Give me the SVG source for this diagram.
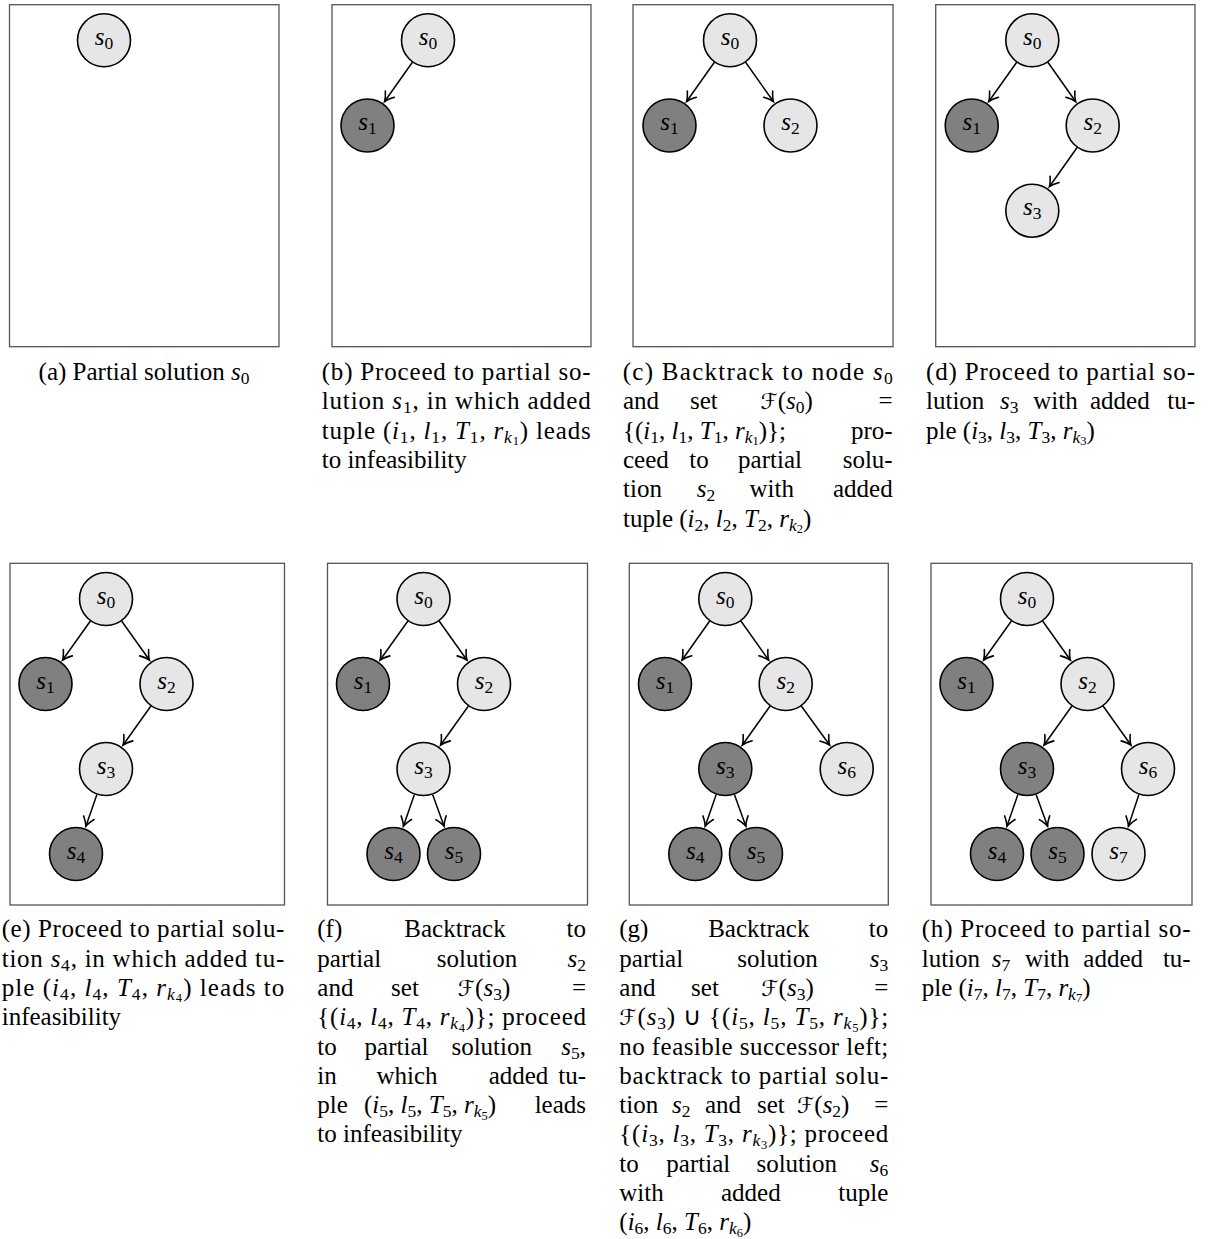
<svg xmlns="http://www.w3.org/2000/svg" width="1213" height="1239" viewBox="0 0 1213 1239" font-family="Liberation Serif, serif">
<style>
.box{fill:#fff;stroke:#555;stroke-width:1.3}
.L{fill:#e6e6e6;stroke:#000;stroke-width:1.6}
.D{fill:#808080;stroke:#000;stroke-width:1.6}
.lbl{font-size:25px;text-anchor:middle;fill:#000}
.cap{font-size:25px;fill:#000}
.it{font-style:italic}
.sb{font-size:17.5px}
.ss{font-size:12.5px}
.scr{font-size:22px;font-style:italic}
.e{fill:none;stroke:#000;stroke-width:1.5;marker-end:url(#ah)}
.m{text-anchor:middle}
.r{text-anchor:end}
</style>
<defs>
<marker id="ah" markerUnits="userSpaceOnUse" viewBox="-11 -7 13 14" refX="0" refY="0" markerWidth="13" markerHeight="14" orient="auto"><path d="M-9,-5.5 Q-3.5,-1.2 0,0 Q-3.5,1.2 -9,5.5" fill="none" stroke="#000" stroke-width="1.6" stroke-linecap="round"/></marker>
</defs>

<g id="boxes">
<rect class="box" x="9.5" y="4.7" width="269.5" height="342"/>
<rect class="box" x="332" y="4.7" width="259" height="342"/>
<rect class="box" x="633" y="4.7" width="260" height="342"/>
<rect class="box" x="935.7" y="4.7" width="259.3" height="342"/>
<rect class="box" x="10" y="563.3" width="274.5" height="341.7"/>
<rect class="box" x="327.5" y="563.3" width="260" height="341.7"/>
<rect class="box" x="629.3" y="563.3" width="259" height="341.7"/>
<rect class="box" x="931" y="563.3" width="261" height="341.7"/>
</g>

<g id="connectors">
<line class="e" x1="412.4" y1="62.3" x2="384.6" y2="101.5"/>
<line class="e" x1="714.4" y1="62.3" x2="686.6" y2="101.5"/>
<line class="e" x1="745.6" y1="62.3" x2="773.4" y2="101.5"/>
<line class="e" x1="1016.7" y1="62.3" x2="988.8" y2="101.5"/>
<line class="e" x1="1047.9" y1="62.3" x2="1075.6" y2="101.5"/>
<line class="e" x1="1077.1" y1="147.5" x2="1049.4" y2="186.7"/>
<line class="e" x1="90.4" y1="621" x2="62.6" y2="660"/>
<line class="e" x1="121.6" y1="621" x2="149.4" y2="660"/>
<line class="e" x1="150.9" y1="706" x2="123.1" y2="745"/>
<line class="e" x1="96.9" y1="794.4" x2="85.9" y2="826.2"/>
<line class="e" x1="407.9" y1="621" x2="380.1" y2="660"/>
<line class="e" x1="439.1" y1="621" x2="466.9" y2="660"/>
<line class="e" x1="468.4" y1="706" x2="440.6" y2="745"/>
<line class="e" x1="414.4" y1="794.4" x2="403.4" y2="826.2"/>
<line class="e" x1="432.6" y1="794.4" x2="444.1" y2="826.2"/>
<line class="e" x1="709.7" y1="621" x2="682.1" y2="660"/>
<line class="e" x1="740.9" y1="621" x2="768.6" y2="660"/>
<line class="e" x1="770.1" y1="706" x2="742.4" y2="745"/>
<line class="e" x1="801.3" y1="706" x2="829.6" y2="745"/>
<line class="e" x1="716.2" y1="794.4" x2="705.2" y2="826.2"/>
<line class="e" x1="734.4" y1="794.4" x2="745.9" y2="826.2"/>
<line class="e" x1="1011.4" y1="621" x2="983.6" y2="660"/>
<line class="e" x1="1042.6" y1="621" x2="1070.4" y2="660"/>
<line class="e" x1="1071.9" y1="706" x2="1044.1" y2="745"/>
<line class="e" x1="1103.1" y1="706" x2="1130.9" y2="745"/>
<line class="e" x1="1017.9" y1="794.4" x2="1006.9" y2="826.2"/>
<line class="e" x1="1036.1" y1="794.4" x2="1047.6" y2="826.2"/>
<line class="e" x1="1138.9" y1="794.4" x2="1128.4" y2="826.2"/>
</g>

<g id="a-s0"><circle class="L" cx="104" cy="40.3" r="26.5"/><text class="lbl" x="104" y="44.8"><tspan class="it">s</tspan><tspan class="sb" dy="4">0</tspan></text></g>

<g id="b-s0"><circle class="L" cx="428" cy="40.3" r="26.5"/><text class="lbl" x="428" y="44.8"><tspan class="it">s</tspan><tspan class="sb" dy="4">0</tspan></text></g>
<g id="b-s1"><circle class="D" cx="367.5" cy="125.5" r="26.5"/><text class="lbl" x="367.5" y="130"><tspan class="it">s</tspan><tspan class="sb" dy="4">1</tspan></text></g>

<g id="c-s0"><circle class="L" cx="730" cy="40.3" r="26.5"/><text class="lbl" x="730" y="44.8"><tspan class="it">s</tspan><tspan class="sb" dy="4">0</tspan></text></g>
<g id="c-s1"><circle class="D" cx="669.5" cy="125.5" r="26.5"/><text class="lbl" x="669.5" y="130"><tspan class="it">s</tspan><tspan class="sb" dy="4">1</tspan></text></g>
<g id="c-s2"><circle class="L" cx="790.5" cy="125.5" r="26.5"/><text class="lbl" x="790.5" y="130"><tspan class="it">s</tspan><tspan class="sb" dy="4">2</tspan></text></g>

<g id="d-s0"><circle class="L" cx="1032.3" cy="40.3" r="26.5"/><text class="lbl" x="1032.3" y="44.8"><tspan class="it">s</tspan><tspan class="sb" dy="4">0</tspan></text></g>
<g id="d-s1"><circle class="D" cx="971.7" cy="125.5" r="26.5"/><text class="lbl" x="971.7" y="130"><tspan class="it">s</tspan><tspan class="sb" dy="4">1</tspan></text></g>
<g id="d-s2"><circle class="L" cx="1092.7" cy="125.5" r="26.5"/><text class="lbl" x="1092.7" y="130"><tspan class="it">s</tspan><tspan class="sb" dy="4">2</tspan></text></g>
<g id="d-s3"><circle class="L" cx="1032.3" cy="210.7" r="26.5"/><text class="lbl" x="1032.3" y="215.2"><tspan class="it">s</tspan><tspan class="sb" dy="4">3</tspan></text></g>

<g id="e-s0"><circle class="L" cx="106" cy="599" r="26.5"/><text class="lbl" x="106" y="603.5"><tspan class="it">s</tspan><tspan class="sb" dy="4">0</tspan></text></g>
<g id="e-s1"><circle class="D" cx="45.5" cy="684" r="26.5"/><text class="lbl" x="45.5" y="688.5"><tspan class="it">s</tspan><tspan class="sb" dy="4">1</tspan></text></g>
<g id="e-s2"><circle class="L" cx="166.5" cy="684" r="26.5"/><text class="lbl" x="166.5" y="688.5"><tspan class="it">s</tspan><tspan class="sb" dy="4">2</tspan></text></g>
<g id="e-s3"><circle class="L" cx="106" cy="769" r="26.5"/><text class="lbl" x="106" y="773.5"><tspan class="it">s</tspan><tspan class="sb" dy="4">3</tspan></text></g>
<g id="e-s4"><circle class="D" cx="76" cy="854" r="26.5"/><text class="lbl" x="76" y="858.5"><tspan class="it">s</tspan><tspan class="sb" dy="4">4</tspan></text></g>

<g id="f-s0"><circle class="L" cx="423.5" cy="599" r="26.5"/><text class="lbl" x="423.5" y="603.5"><tspan class="it">s</tspan><tspan class="sb" dy="4">0</tspan></text></g>
<g id="f-s1"><circle class="D" cx="363" cy="684" r="26.5"/><text class="lbl" x="363" y="688.5"><tspan class="it">s</tspan><tspan class="sb" dy="4">1</tspan></text></g>
<g id="f-s2"><circle class="L" cx="484" cy="684" r="26.5"/><text class="lbl" x="484" y="688.5"><tspan class="it">s</tspan><tspan class="sb" dy="4">2</tspan></text></g>
<g id="f-s3"><circle class="L" cx="423.5" cy="769" r="26.5"/><text class="lbl" x="423.5" y="773.5"><tspan class="it">s</tspan><tspan class="sb" dy="4">3</tspan></text></g>
<g id="f-s4"><circle class="D" cx="393.5" cy="854" r="26.5"/><text class="lbl" x="393.5" y="858.5"><tspan class="it">s</tspan><tspan class="sb" dy="4">4</tspan></text></g>
<g id="f-s5"><circle class="D" cx="454" cy="854" r="26.5"/><text class="lbl" x="454" y="858.5"><tspan class="it">s</tspan><tspan class="sb" dy="4">5</tspan></text></g>

<g id="g-s0"><circle class="L" cx="725.3" cy="599" r="26.5"/><text class="lbl" x="725.3" y="603.5"><tspan class="it">s</tspan><tspan class="sb" dy="4">0</tspan></text></g>
<g id="g-s1"><circle class="D" cx="665" cy="684" r="26.5"/><text class="lbl" x="665" y="688.5"><tspan class="it">s</tspan><tspan class="sb" dy="4">1</tspan></text></g>
<g id="g-s2"><circle class="L" cx="785.7" cy="684" r="26.5"/><text class="lbl" x="785.7" y="688.5"><tspan class="it">s</tspan><tspan class="sb" dy="4">2</tspan></text></g>
<g id="g-s3"><circle class="D" cx="725.3" cy="769" r="26.5"/><text class="lbl" x="725.3" y="773.5"><tspan class="it">s</tspan><tspan class="sb" dy="4">3</tspan></text></g>
<g id="g-s6"><circle class="L" cx="846.7" cy="769" r="26.5"/><text class="lbl" x="846.7" y="773.5"><tspan class="it">s</tspan><tspan class="sb" dy="4">6</tspan></text></g>
<g id="g-s4"><circle class="D" cx="695.3" cy="854" r="26.5"/><text class="lbl" x="695.3" y="858.5"><tspan class="it">s</tspan><tspan class="sb" dy="4">4</tspan></text></g>
<g id="g-s5"><circle class="D" cx="756" cy="854" r="26.5"/><text class="lbl" x="756" y="858.5"><tspan class="it">s</tspan><tspan class="sb" dy="4">5</tspan></text></g>

<g id="h-s0"><circle class="L" cx="1027" cy="599" r="26.5"/><text class="lbl" x="1027" y="603.5"><tspan class="it">s</tspan><tspan class="sb" dy="4">0</tspan></text></g>
<g id="h-s1"><circle class="D" cx="966.5" cy="684" r="26.5"/><text class="lbl" x="966.5" y="688.5"><tspan class="it">s</tspan><tspan class="sb" dy="4">1</tspan></text></g>
<g id="h-s2"><circle class="L" cx="1087.5" cy="684" r="26.5"/><text class="lbl" x="1087.5" y="688.5"><tspan class="it">s</tspan><tspan class="sb" dy="4">2</tspan></text></g>
<g id="h-s3"><circle class="D" cx="1027" cy="769" r="26.5"/><text class="lbl" x="1027" y="773.5"><tspan class="it">s</tspan><tspan class="sb" dy="4">3</tspan></text></g>
<g id="h-s6"><circle class="L" cx="1148" cy="769" r="26.5"/><text class="lbl" x="1148" y="773.5"><tspan class="it">s</tspan><tspan class="sb" dy="4">6</tspan></text></g>
<g id="h-s4"><circle class="D" cx="997" cy="854" r="26.5"/><text class="lbl" x="997" y="858.5"><tspan class="it">s</tspan><tspan class="sb" dy="4">4</tspan></text></g>
<g id="h-s5"><circle class="D" cx="1057.5" cy="854" r="26.5"/><text class="lbl" x="1057.5" y="858.5"><tspan class="it">s</tspan><tspan class="sb" dy="4">5</tspan></text></g>
<g id="h-s7"><circle class="L" cx="1118.5" cy="854" r="26.5"/><text class="lbl" x="1118.5" y="858.5"><tspan class="it">s</tspan><tspan class="sb" dy="4">7</tspan></text></g>

<g id="captions">
<text class="cap m" x="144" y="380">(a) Partial solution <tspan class="it">s</tspan><tspan class="sb" dy="4">0</tspan></text>

<text class="cap" x="321.7" y="380" textLength="269" lengthAdjust="spacing">(b) Proceed to partial so-</text>
<text class="cap" x="321.7" y="409.3" textLength="269" lengthAdjust="spacing">lution <tspan class="it">s</tspan><tspan class="sb" dy="4">1</tspan><tspan dy="-4">, in which added</tspan></text>
<text class="cap" x="321.7" y="438.6" textLength="269" lengthAdjust="spacing">tuple (<tspan class="it">i</tspan><tspan class="sb" dy="4">1</tspan><tspan dy="-4">, </tspan><tspan class="it">l</tspan><tspan class="sb" dy="4">1</tspan><tspan dy="-4">, </tspan><tspan class="it">T</tspan><tspan class="sb" dy="4">1</tspan><tspan dy="-4">, </tspan><tspan class="it">r</tspan><tspan class="it sb" dy="4">k</tspan><tspan class="ss" dy="2.5">1</tspan><tspan dy="-6.5">) leads</tspan></text>
<text class="cap" x="321.7" y="467.9">to infeasibility</text>

<text class="cap" x="622.7" y="380" textLength="270" lengthAdjust="spacing">(c) Backtrack to node <tspan class="it">s</tspan><tspan class="sb" dy="4">0</tspan></text>
<text class="cap" x="623" y="409.3">and</text>
<text class="cap m" x="703.8" y="409.3">set</text>
<text class="cap m" x="786.7" y="409.3"><tspan class="scr" font-family="DejaVu Sans">ℱ</tspan>(<tspan class="it">s</tspan><tspan class="sb" dy="4">0</tspan><tspan dy="-4">)</tspan></text>
<text class="cap r" x="892.7" y="409.3">=</text>
<text class="cap" x="623" y="438.6">{(<tspan class="it">i</tspan><tspan class="sb" dy="4">1</tspan><tspan dy="-4">, </tspan><tspan class="it">l</tspan><tspan class="sb" dy="4">1</tspan><tspan dy="-4">, </tspan><tspan class="it">T</tspan><tspan class="sb" dy="4">1</tspan><tspan dy="-4">, </tspan><tspan class="it">r</tspan><tspan class="it sb" dy="4">k</tspan><tspan class="ss" dy="2.5">1</tspan><tspan dy="-6.5">)};</tspan></text>
<text class="cap r" x="892.7" y="438.6">pro-</text>
<text class="cap" x="623" y="467.9">ceed</text>
<text class="cap m" x="699" y="467.9">to</text>
<text class="cap m" x="770" y="467.9">partial</text>
<text class="cap r" x="892.7" y="467.9">solu-</text>
<text class="cap" x="623" y="497.2">tion</text>
<text class="cap m" x="706" y="497.2"><tspan class="it">s</tspan><tspan class="sb" dy="4">2</tspan></text>
<text class="cap m" x="771.7" y="497.2">with</text>
<text class="cap r" x="892.7" y="497.2">added</text>
<text class="cap" x="623" y="526.5">tuple (<tspan class="it">i</tspan><tspan class="sb" dy="4">2</tspan><tspan dy="-4">, </tspan><tspan class="it">l</tspan><tspan class="sb" dy="4">2</tspan><tspan dy="-4">, </tspan><tspan class="it">T</tspan><tspan class="sb" dy="4">2</tspan><tspan dy="-4">, </tspan><tspan class="it">r</tspan><tspan class="it sb" dy="4">k</tspan><tspan class="ss" dy="2.5">2</tspan><tspan dy="-6.5">)</tspan></text>

<text class="cap" x="926" y="380" textLength="269" lengthAdjust="spacing">(d) Proceed to partial so-</text>
<text class="cap" x="926" y="409.3">lution</text>
<text class="cap" x="1000" y="409.3"><tspan class="it">s</tspan><tspan class="sb" dy="4">3</tspan></text>
<text class="cap" x="1033.3" y="409.3">with</text>
<text class="cap" x="1090" y="409.3">added</text>
<text class="cap r" x="1195" y="409.3">tu-</text>
<text class="cap" x="926" y="438.6">ple (<tspan class="it">i</tspan><tspan class="sb" dy="4">3</tspan><tspan dy="-4">, </tspan><tspan class="it">l</tspan><tspan class="sb" dy="4">3</tspan><tspan dy="-4">, </tspan><tspan class="it">T</tspan><tspan class="sb" dy="4">3</tspan><tspan dy="-4">, </tspan><tspan class="it">r</tspan><tspan class="it sb" dy="4">k</tspan><tspan class="ss" dy="2.5">3</tspan><tspan dy="-6.5">)</tspan></text>

<text class="cap" x="1.7" y="937.3" textLength="282.6" lengthAdjust="spacing">(e) Proceed to partial solu-</text>
<text class="cap" x="1.7" y="966.6" textLength="282.6" lengthAdjust="spacing">tion <tspan class="it">s</tspan><tspan class="sb" dy="4">4</tspan><tspan dy="-4">, in which added tu-</tspan></text>
<text class="cap" x="1.7" y="995.9" textLength="282.6" lengthAdjust="spacing">ple (<tspan class="it">i</tspan><tspan class="sb" dy="4">4</tspan><tspan dy="-4">, </tspan><tspan class="it">l</tspan><tspan class="sb" dy="4">4</tspan><tspan dy="-4">, </tspan><tspan class="it">T</tspan><tspan class="sb" dy="4">4</tspan><tspan dy="-4">, </tspan><tspan class="it">r</tspan><tspan class="it sb" dy="4">k</tspan><tspan class="ss" dy="2.5">4</tspan><tspan dy="-6.5">) leads to</tspan></text>
<text class="cap" x="1.7" y="1025.2">infeasibility</text>

<text class="cap" x="317.3" y="937.3">(f)</text>
<text class="cap m" x="455" y="937.3">Backtrack</text>
<text class="cap r" x="586" y="937.3">to</text>
<text class="cap" x="317.3" y="966.6">partial</text>
<text class="cap m" x="477" y="966.6">solution</text>
<text class="cap r" x="586" y="966.6"><tspan class="it">s</tspan><tspan class="sb" dy="4">2</tspan></text>
<text class="cap" x="317.3" y="995.9">and</text>
<text class="cap m" x="405" y="995.9">set</text>
<text class="cap m" x="484" y="995.9"><tspan class="scr" font-family="DejaVu Sans">ℱ</tspan>(<tspan class="it">s</tspan><tspan class="sb" dy="4">3</tspan><tspan dy="-4">)</tspan></text>
<text class="cap r" x="586" y="995.9">=</text>
<text class="cap" x="317.3" y="1025.2" textLength="268.7" lengthAdjust="spacing">{(<tspan class="it">i</tspan><tspan class="sb" dy="4">4</tspan><tspan dy="-4">, </tspan><tspan class="it">l</tspan><tspan class="sb" dy="4">4</tspan><tspan dy="-4">, </tspan><tspan class="it">T</tspan><tspan class="sb" dy="4">4</tspan><tspan dy="-4">, </tspan><tspan class="it">r</tspan><tspan class="it sb" dy="4">k</tspan><tspan class="ss" dy="2.5">4</tspan><tspan dy="-6.5">)}; proceed</tspan></text>
<text class="cap" x="317.3" y="1054.5">to</text>
<text class="cap m" x="396.5" y="1054.5">partial</text>
<text class="cap m" x="491.7" y="1054.5">solution</text>
<text class="cap r" x="586" y="1054.5"><tspan class="it">s</tspan><tspan class="sb" dy="4">5</tspan><tspan dy="-4">,</tspan></text>
<text class="cap" x="317.3" y="1083.8">in</text>
<text class="cap m" x="407" y="1083.8">which</text>
<text class="cap m" x="518.5" y="1083.8">added</text>
<text class="cap r" x="586" y="1083.8">tu-</text>
<text class="cap" x="317.3" y="1113.1">ple</text>
<text class="cap m" x="430" y="1113.1">(<tspan class="it">i</tspan><tspan class="sb" dy="4">5</tspan><tspan dy="-4">, </tspan><tspan class="it">l</tspan><tspan class="sb" dy="4">5</tspan><tspan dy="-4">, </tspan><tspan class="it">T</tspan><tspan class="sb" dy="4">5</tspan><tspan dy="-4">, </tspan><tspan class="it">r</tspan><tspan class="it sb" dy="4">k</tspan><tspan class="ss" dy="2.5">5</tspan><tspan dy="-6.5">)</tspan></text>
<text class="cap r" x="586" y="1113.1">leads</text>
<text class="cap" x="317.3" y="1142.4">to infeasibility</text>

<text class="cap" x="619.3" y="937.3">(g)</text>
<text class="cap m" x="758.8" y="937.3">Backtrack</text>
<text class="cap r" x="888.3" y="937.3">to</text>
<text class="cap" x="619.3" y="966.6">partial</text>
<text class="cap m" x="777.5" y="966.6">solution</text>
<text class="cap r" x="888.3" y="966.6"><tspan class="it">s</tspan><tspan class="sb" dy="4">3</tspan></text>
<text class="cap" x="619.3" y="995.9">and</text>
<text class="cap m" x="705" y="995.9">set</text>
<text class="cap m" x="787.5" y="995.9"><tspan class="scr" font-family="DejaVu Sans">ℱ</tspan>(<tspan class="it">s</tspan><tspan class="sb" dy="4">3</tspan><tspan dy="-4">)</tspan></text>
<text class="cap r" x="888.3" y="995.9">=</text>
<text class="cap" x="619.3" y="1025.2" textLength="269" lengthAdjust="spacing"><tspan class="scr" font-family="DejaVu Sans">ℱ</tspan>(<tspan class="it">s</tspan><tspan class="sb" dy="4">3</tspan><tspan dy="-4">) ∪ {(</tspan><tspan class="it">i</tspan><tspan class="sb" dy="4">5</tspan><tspan dy="-4">, </tspan><tspan class="it">l</tspan><tspan class="sb" dy="4">5</tspan><tspan dy="-4">, </tspan><tspan class="it">T</tspan><tspan class="sb" dy="4">5</tspan><tspan dy="-4">, </tspan><tspan class="it">r</tspan><tspan class="it sb" dy="4">k</tspan><tspan class="ss" dy="2.5">5</tspan><tspan dy="-6.5">)};</tspan></text>
<text class="cap" x="619.3" y="1054.5" textLength="269" lengthAdjust="spacing">no feasible successor left;</text>
<text class="cap" x="619.3" y="1083.8" textLength="269" lengthAdjust="spacing">backtrack to partial solu-</text>
<text class="cap" x="619.3" y="1113.1">tion</text>
<text class="cap" x="672" y="1113.1"><tspan class="it">s</tspan><tspan class="sb" dy="4">2</tspan></text>
<text class="cap" x="705" y="1113.1">and</text>
<text class="cap" x="757" y="1113.1">set</text>
<text class="cap" x="797" y="1113.1"><tspan class="scr" font-family="DejaVu Sans">ℱ</tspan>(<tspan class="it">s</tspan><tspan class="sb" dy="4">2</tspan><tspan dy="-4">)</tspan></text>
<text class="cap r" x="888.3" y="1113.1">=</text>
<text class="cap" x="619.3" y="1142.4" textLength="269" lengthAdjust="spacing">{(<tspan class="it">i</tspan><tspan class="sb" dy="4">3</tspan><tspan dy="-4">, </tspan><tspan class="it">l</tspan><tspan class="sb" dy="4">3</tspan><tspan dy="-4">, </tspan><tspan class="it">T</tspan><tspan class="sb" dy="4">3</tspan><tspan dy="-4">, </tspan><tspan class="it">r</tspan><tspan class="it sb" dy="4">k</tspan><tspan class="ss" dy="2.5">3</tspan><tspan dy="-6.5">)}; proceed</tspan></text>
<text class="cap" x="619.3" y="1171.7">to</text>
<text class="cap m" x="698.3" y="1171.7">partial</text>
<text class="cap m" x="796.7" y="1171.7">solution</text>
<text class="cap r" x="888.3" y="1171.7"><tspan class="it">s</tspan><tspan class="sb" dy="4">6</tspan></text>
<text class="cap" x="619.3" y="1201">with</text>
<text class="cap m" x="750.8" y="1201">added</text>
<text class="cap r" x="888.3" y="1201">tuple</text>
<text class="cap" x="619.3" y="1230.3">(<tspan class="it">i</tspan><tspan class="sb" dy="4">6</tspan><tspan dy="-4">, </tspan><tspan class="it">l</tspan><tspan class="sb" dy="4">6</tspan><tspan dy="-4">, </tspan><tspan class="it">T</tspan><tspan class="sb" dy="4">6</tspan><tspan dy="-4">, </tspan><tspan class="it">r</tspan><tspan class="it sb" dy="4">k</tspan><tspan class="ss" dy="2.5">6</tspan><tspan dy="-6.5">)</tspan></text>

<text class="cap" x="921.7" y="937.3" textLength="269" lengthAdjust="spacing">(h) Proceed to partial so-</text>
<text class="cap" x="921.7" y="966.6">lution</text>
<text class="cap" x="991.7" y="966.6"><tspan class="it">s</tspan><tspan class="sb" dy="4">7</tspan></text>
<text class="cap" x="1025" y="966.6">with</text>
<text class="cap" x="1083.3" y="966.6">added</text>
<text class="cap r" x="1190.7" y="966.6">tu-</text>
<text class="cap" x="921.7" y="995.9">ple (<tspan class="it">i</tspan><tspan class="sb" dy="4">7</tspan><tspan dy="-4">, </tspan><tspan class="it">l</tspan><tspan class="sb" dy="4">7</tspan><tspan dy="-4">, </tspan><tspan class="it">T</tspan><tspan class="sb" dy="4">7</tspan><tspan dy="-4">, </tspan><tspan class="it">r</tspan><tspan class="it sb" dy="4">k</tspan><tspan class="ss" dy="2.5">7</tspan><tspan dy="-6.5">)</tspan></text>
</g>
</svg>
